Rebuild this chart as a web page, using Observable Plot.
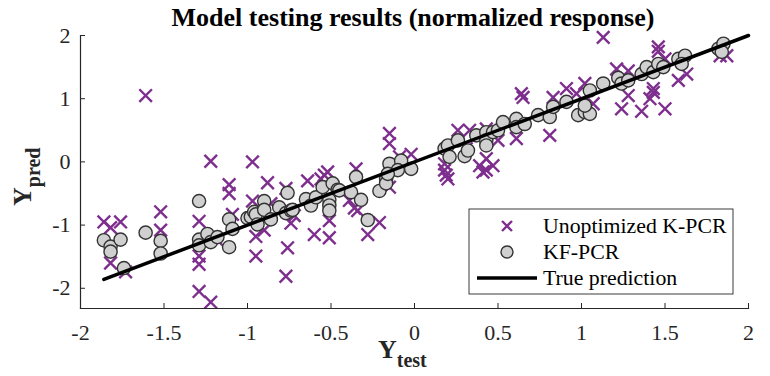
<!DOCTYPE html>
<html><head><meta charset="utf-8">
<script src="https://cdn.jsdelivr.net/npm/d3@7"></script>
<script src="https://cdn.jsdelivr.net/npm/@observablehq/plot@0.6"></script>
<style>body{margin:0;background:#fff} #chart{position:relative;width:770px;height:376px}</style>
</head><body><div id="chart"></div>
<script>
const titleText = "Model testing results (normalized response)";
const seriesNames = ["Unoptimized K-PCR", "KF-PCR", "True prediction"];
const xTicks = [-2, -1.5, -1, -0.5, 0, 0.5, 1, 1.5, 2];
const yTicks = [-2, -1, 0, 1, 2];
const lineTest = [-1.86, 2];

// Unoptimized K-PCR (crosses)
const unoptTest = [-1.86,-1.82,-1.76,-1.82,-1.73,-1.61,-1.52,-1.52,-1.22,-1.29,-1.29,-1.29,-1.29,-1.22,
 -1.11,-1.11,-1.09,-1.18,-0.97,-0.97,-0.95,-0.95,-0.90,-0.88,-0.86,-0.77,-0.76,-0.77,-0.74,-0.72,
 -0.64,-0.60,-0.56,-0.54,-0.52,-0.51,-0.51,-0.36,-0.35,-0.39,-0.34,-0.28,-0.21,
 -0.15,-0.15,-0.15,-0.02,-0.09,0.18,0.19,0.20,0.18,
 0.26,0.33,0.31,0.43,0.39,0.43,0.43,0.47,0.41,0.50,0.61,0.64,0.65,
 0.81,0.83,0.91,0.97,1.02,1.07,
 1.13,1.21,1.28,1.28,1.24,1.36,1.41,1.43,1.43,1.46,1.46,1.50,1.50,1.58,1.63,1.83,1.87];
const unoptPred = [-0.95,-1.04,-0.95,-1.60,-1.74,1.05,-0.79,-1.08,0.01,-0.94,-1.49,-1.62,-2.05,-2.22,
 -0.36,-0.50,-0.83,-1.24,0.00,-0.62,-1.18,-1.49,-1.08,-0.33,-0.66,-0.42,-1.36,-1.81,-0.97,-0.85,
 -0.30,-1.15,-0.27,-0.21,-0.16,-0.93,-1.20,-0.73,-0.11,-0.61,-0.77,-1.15,-0.96,
 0.45,0.29,-0.40,0.12,0.08,-0.13,-0.21,-0.27,-0.03,
 0.50,0.50,0.21,0.52,-0.06,0.05,-0.13,-0.06,-0.16,0.34,0.37,1.08,1.02,
 0.42,1.02,1.16,1.08,1.24,0.92,
 1.97,1.47,1.44,1.05,0.84,0.80,1.00,1.16,1.10,1.82,1.75,1.63,0.84,1.29,1.39,1.68,1.68];

// KF-PCR (circles)
const kfTest = [-1.86,-1.82,-1.82,-1.76,-1.74,-1.61,-1.52,-1.52,
 -1.29,-1.29,-1.29,-1.24,-1.22,-1.18,-1.11,-1.09,-1.11,
 -1.00,-0.98,-0.96,-0.95,-0.90,-0.90,-0.94,-0.86,-0.81,-0.76,-0.77,-0.74,-0.73,
 -0.65,-0.62,-0.59,-0.55,-0.51,-0.51,-0.51,-0.49,-0.46,-0.45,-0.38,-0.35,-0.32,-0.28,-0.21,-0.17,-0.17,-0.15,-0.08,-0.02,-0.10,-0.16,
 0.18,0.20,0.21,0.26,0.30,0.32,0.37,0.43,0.43,0.43,0.47,0.50,0.53,0.61,0.61,0.66,0.74,0.81,0.83,0.91,0.98,1.02,1.05,1.02,1.05,
 1.13,1.22,1.24,1.28,1.36,1.39,1.43,1.46,1.49,1.58,1.62,1.60,1.82,1.85,1.84];
const kfPred = [-1.24,-1.34,-1.42,-1.23,-1.68,-1.12,-1.25,-1.45,
 -0.62,-1.23,-1.32,-1.14,-1.27,-1.19,-0.91,-1.06,-1.35,
 -0.89,-0.87,-0.79,-0.83,-0.62,-0.76,-0.99,-0.91,-0.72,-0.49,-0.81,-0.77,-0.76,
 -0.59,-0.69,-0.56,-0.40,-0.60,-0.69,-0.77,-0.34,-0.44,-0.45,-0.48,-0.24,-0.60,-0.92,-0.46,-0.27,-0.34,-0.03,0.02,-0.11,-0.13,-0.19,
 0.21,0.26,0.08,0.34,0.09,0.18,0.42,0.47,0.34,0.26,0.47,0.50,0.63,0.68,0.55,0.60,0.74,0.71,0.87,0.95,0.74,0.79,0.76,0.89,1.13,
 1.24,1.33,1.24,1.29,1.39,1.50,1.42,1.55,1.50,1.63,1.68,1.55,1.79,1.87,1.74];

const W = 770, H = 376, mL = 80, mR = 22, mT = 35, mB = 68;
const innerW = W - mL - mR, innerH = H - mT - mB;
const purple = "#7E2F8E", axisCol = "#262626";
const serif = "'Liberation Serif', 'Times New Roman', Times, serif";
const fmt = d => String(d);

const unopt = unoptTest.map((x, i) => ({x, y: unoptPred[i]}));
const kf = kfTest.map((x, i) => ({x, y: kfPred[i]}));
const truth = lineTest.map(v => ({x: v, y: v}));

const plot = Plot.plot({
  width: W, height: H, marginLeft: mL, marginRight: mR, marginTop: mT, marginBottom: mB,
  style: {fontFamily: serif, fontSize: "22px", color: axisCol, background: "white", overflow: "visible"},
  x: {domain: [-2, 2], ticks: xTicks, tickFormat: fmt},
  y: {domain: [-2.32, 2], ticks: yTicks, tickFormat: fmt},
  marks: [
    Plot.axisX(xTicks, {tickSize: 0, tickPadding: 16, label: null, tickFormat: fmt, fontSize: 22, fill: axisCol}),
    Plot.axisY(yTicks, {tickSize: 0, tickPadding: 10, label: null, tickFormat: fmt, fontSize: 22, fill: axisCol}),
    Plot.tickX(xTicks, {x: d => d, insetTop: innerH - 5, stroke: axisCol, strokeWidth: 1}),
    Plot.tickY(yTicks, {y: d => d, insetRight: innerW - 5, stroke: axisCol, strokeWidth: 1}),
    Plot.dot(unopt, {x: "x", y: "y", symbol: "times", r: 5.8, stroke: purple, strokeWidth: 2.4}),
    Plot.dot(kf, {x: "x", y: "y", r: 6.6, fill: "#d0d0d0", stroke: "#333", strokeWidth: 1.4}),
    Plot.line(truth, {x: "x", y: "y", stroke: "black", strokeWidth: 3.5}),
    Plot.frame({anchor: "left", stroke: axisCol, strokeWidth: 1.2}),
    Plot.frame({anchor: "bottom", stroke: axisCol, strokeWidth: 1.2})
  ]
});
document.getElementById("chart").appendChild(plot);

const svg = d3.select(plot);
// Title
svg.append("text").attr("x", 413).attr("y", 26).attr("text-anchor", "middle")
  .attr("font-family", serif).attr("font-weight", "bold").attr("font-size", 26).attr("fill", "black")
  .text(titleText);
// X label
const xl = svg.append("text").attr("x", 378).attr("y", 358).attr("text-anchor", "start").attr("font-family", serif)
  .attr("font-weight", "bold").attr("fill", axisCol);
xl.append("tspan").attr("font-size", 26).text("Y");
xl.append("tspan").attr("font-size", 20).attr("dy", 9).text("test");
// Y label
const yl = svg.append("text").attr("transform", "translate(31,206) rotate(-90)").attr("text-anchor", "start").attr("font-family", serif)
  .attr("font-weight", "bold").attr("fill", axisCol);
yl.append("tspan").attr("font-size", 26).text("Y");
yl.append("tspan").attr("font-size", 20).attr("dy", 9).text("pred");
// Legend
const lg = svg.append("g").attr("text-anchor", "start");
lg.append("rect").attr("x", 469).attr("y", 209).attr("width", 264).attr("height", 85)
  .attr("fill", "white").attr("stroke", axisCol).attr("stroke-width", 0.9);
const rows = [226, 252, 278];
lg.append("path").attr("transform", `translate(507,${rows[0]})`)
  .attr("d", d3.symbol(d3.symbolTimes, Math.PI * 4.6 * 4.6)()).attr("stroke", purple).attr("stroke-width", 2.4).attr("fill", "none");
lg.append("circle").attr("cx", 507).attr("cy", rows[1]).attr("r", 6)
  .attr("fill", "#d0d0d0").attr("stroke", "#333").attr("stroke-width", 1.4);
lg.append("line").attr("x1", 477).attr("x2", 537).attr("y1", rows[2]).attr("y2", rows[2])
  .attr("stroke", "black").attr("stroke-width", 3.5);
seriesNames.forEach((n, i) => {
  lg.append("text").attr("x", 543).attr("y", rows[i] + 7).attr("text-anchor", "start").attr("font-family", serif)
    .attr("font-size", 21.8).attr("fill", "black").text(n);
});
</script>
</body></html>
